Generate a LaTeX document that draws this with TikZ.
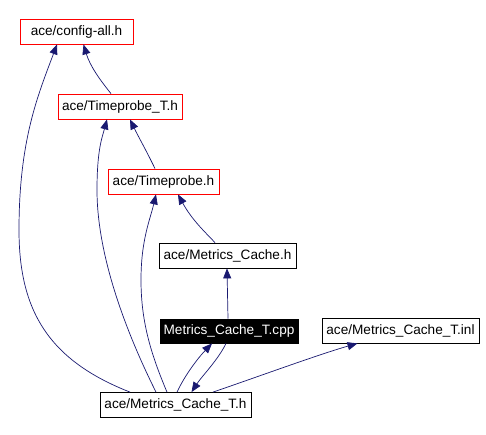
\documentclass[tikz,border=0pt]{standalone}
\usepackage{fontspec}
\setmainfont{Liberation Sans}
\usetikzlibrary{arrows.meta}
\definecolor{edgeblue}{RGB}{25, 25, 112}
\definecolor{boxred}{RGB}{255, 0, 0}

\begin{document}
\begin{tikzpicture}[
  x=1pt, y=-1pt,
  font=\fontsize{13.6}{15}\selectfont,
  incl/.style={draw=boxred, line width=0.8pt, fill=white, minimum height=25pt, inner sep=0pt},
  plain/.style={draw=black, line width=0.8pt, fill=white, minimum height=25pt, inner sep=0pt},
  cur/.style={draw=black, line width=0.8pt, fill=black, text=white, minimum height=24pt, inner sep=0pt},
  dep/.style={edgeblue, line width=0.7pt, -{Triangle[length=10pt, width=8pt]}},
]
\useasboundingbox (0,0) rectangle (486,435);

% files
\node[incl, minimum width=113pt] (cfg) at (76.5,31.5) {ace/config-all.h};
\node[incl, minimum width=124pt] (tpt) at (120,106.5) {ace/Timeprobe\_T.h};
\node[incl, minimum width=111pt] (tp) at (163.5,181.5) {ace/Timeprobe.h};
\node[plain, minimum width=137pt] (mc) at (227.5,255.5) {ace/Metrics\_Cache.h};
\node[cur, minimum width=138pt] (cpp) at (229,331) {Metrics\_Cache\_T.cpp};
\node[plain, minimum width=157pt] (inl) at (400.5,330.5) {ace/Metrics\_Cache\_T.inl};
\node[plain, minimum width=151pt] (mch) at (175.5,405) {ace/Metrics\_Cache\_T.h};

% include edges
\draw[dep] ([xshift=-9pt]tpt.north) .. controls (100,80) and (90,66) .. ([xshift=7pt]cfg.south);
\draw[dep] ([xshift=-45.5pt]mch.north) .. controls (48,360) and (19,310) .. (19,230)
  .. controls (19,140) and (38,95) .. ([xshift=-19.5pt]cfg.south);
\draw[dep] ([xshift=-8.5pt]tp.north) .. controls (146,150) and (138,136) .. ([xshift=10pt]tpt.south);
\draw[dep] ([xshift=-19.5pt]mch.north) .. controls (130,340) and (97,260) .. (97,190)
  .. controls (97,150) and (102,138) .. ([xshift=-13pt]tpt.south);
\draw[dep] ([xshift=-12.5pt]mc.north) .. controls (205,232) and (192,220) .. ([xshift=14.5pt]tp.south);
\draw[dep] ([xshift=-8.5pt]mch.north) .. controls (150,352) and (141,320) .. (141,280)
  .. controls (141,240) and (150,220) .. ([xshift=-7.5pt]tp.south);
\draw[dep] ([xshift=-1pt]cpp.north) -- ([xshift=-0.5pt]mc.south);
\draw[dep] ([xshift=1.5pt]mch.north) .. controls (185,375) and (198,358) .. ([xshift=-17pt]cpp.south);
\draw[dep] ([xshift=-3pt]cpp.south) .. controls (218,360) and (202,376) .. ([xshift=16pt]mch.north);
\draw[dep] ([xshift=37.5pt]mch.north) .. controls (260,376) and (320,354) .. ([xshift=-43pt]inl.south);
\end{tikzpicture}
\end{document}
